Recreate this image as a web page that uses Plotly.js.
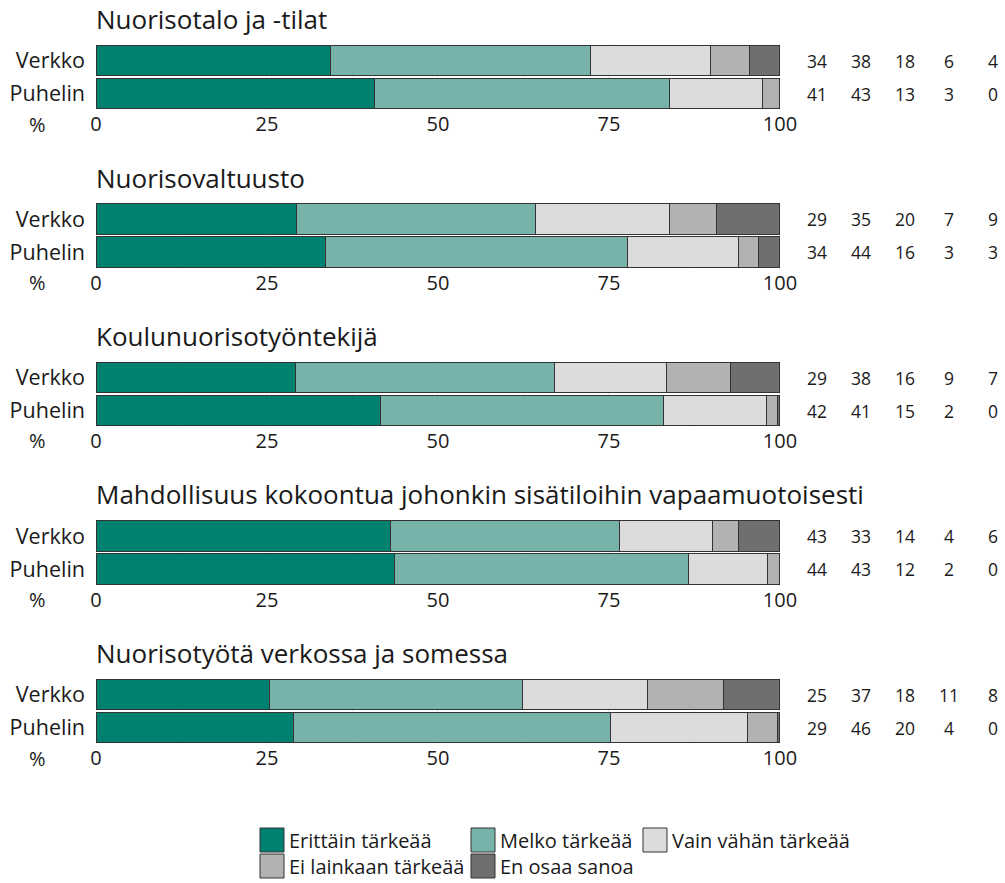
<!DOCTYPE html>
<html>
<head>
<meta charset="utf-8">
<script src="https://cdn.plot.ly/plotly-3.0.1.min.js"></script>
<style>html,body{margin:0;padding:0;background:#fff;}#chart{width:1005px;height:883px;}</style>
</head>
<body>
<div id="chart"></div>
<script>
// ---- data ----
const panels = ['Nuorisotalo ja -tilat', 'Nuorisovaltuusto', 'Koulunuorisotyöntekijä',
  'Mahdollisuus kokoontua johonkin sisätiloihin vapaamuotoisesti', 'Nuorisotyötä verkossa ja somessa'];
const groups = ['Verkko', 'Puhelin'];
const responses = ['Erittäin tärkeää', 'Melko tärkeää', 'Vain vähän tärkeää', 'Ei lainkaan tärkeää', 'En osaa sanoa'];
const colors = ['#008170', '#78b3ab', '#dcdcdc', '#b3b2b3', '#706f6f'];

// values per panel: [Verkko, Puhelin]
const erittain   = [[34.3, 40.7], [29.3, 33.6], [29.1, 41.6], [43.1, 43.6], [25.4, 28.9]];
const melko      = [[38.0, 43.2], [34.9, 44.1], [37.9, 41.3], [33.4, 43.0], [36.9, 46.3]];
const vainVahan  = [[17.6, 13.5], [19.6, 16.2], [16.4, 15.1], [13.6, 11.6], [18.4, 20.0]];
const eiLainkaan = [[5.7, 2.6], [6.9, 2.9], [9.3, 1.7], [3.9, 1.8], [11.1, 4.4]];
const enOsaa     = [[4.4, 0.0], [9.3, 3.2], [7.3, 0.3], [6.0, 0.0], [8.2, 0.4]];

// printed labels per panel: [Verkko row, Puhelin row]
const labelsP1 = [[34, 38, 18, 6, 4], [41, 43, 13, 3, 0]];
const labelsP2 = [[29, 35, 20, 7, 9], [34, 44, 16, 3, 3]];
const labelsP3 = [[29, 38, 16, 9, 7], [42, 41, 15, 2, 0]];
const labelsP4 = [[43, 33, 14, 4, 6], [44, 43, 12, 2, 0]];
const labelsP5 = [[25, 37, 18, 11, 8], [29, 46, 20, 4, 0]];

const xTicks = [0, 25, 50, 75, 100];

// ---- build ----
const series = [erittain, melko, vainVahan, eiLainkaan, enOsaa];
const labels = [labelsP1, labelsP2, labelsP3, labelsP4, labelsP5];
const W = 1005, H = 883;
const fx = p => p / W;
const fy = p => 1 - p / H;
const FONT = 'Open Sans, Noto Sans, sans-serif';
const TXT = '#1a1a1a';

const data = [];
const layout = {
  width: W, height: H,
  margin: {l: 0, r: 0, t: 0, b: 0},
  paper_bgcolor: '#fff', plot_bgcolor: '#fff',
  barmode: 'stack', bargap: 0.07,
  showlegend: false,
  font: {family: FONT, color: TXT, size: 18},
  annotations: [], shapes: []
};

const colX = [817, 861, 905, 949, 993];

panels.forEach((title, k) => {
  const top = 44 + 158.5 * k, bottom = top + 66;
  const xa = k === 0 ? 'x' : 'x' + (k + 1);
  const ya = k === 0 ? 'y' : 'y' + (k + 1);
  const xk = k === 0 ? 'xaxis' : 'xaxis' + (k + 1);
  const yk = k === 0 ? 'yaxis' : 'yaxis' + (k + 1);
  series.forEach((s, j) => {
    data.push({
      type: 'bar', orientation: 'h',
      x: s[k], y: groups, xaxis: xa, yaxis: ya,
      name: responses[j],
      marker: {color: colors[j], line: {color: '#333', width: 1}},
      hoverinfo: 'x+y+name'
    });
  });
  layout[xk] = {
    domain: [fx(96), fx(781)], anchor: ya, range: [0, 100.15],
    tickvals: xTicks, ticktext: xTicks.map(String), ticks: '',
    showgrid: true, gridcolor: '#e6e6e6', gridwidth: 1, zeroline: false,
    minor: {dtick: 12.5, tick0: 0, showgrid: true, gridcolor: '#eeeeee', gridwidth: 1},
    tickfont: {size: 20, color: TXT, family: FONT}, showline: false, fixedrange: true
  };
  layout[yk] = {
    domain: [fy(bottom), fy(top)], anchor: xa, type: 'category',
    categoryorder: 'array', categoryarray: groups, autorange: 'reversed',
    ticks: '', showgrid: false, zeroline: false, showline: false,
    ticklabelstandoff: 10,
    tickfont: {size: 21.5, color: TXT, family: FONT}, fixedrange: true
  };
  layout.annotations.push({
    text: title, xref: 'paper', yref: 'paper', x: fx(94), y: fy(top - 25),
    xanchor: 'left', yanchor: 'middle', showarrow: false,
    font: {size: 26, color: TXT, family: FONT}
  });
  layout.annotations.push({
    text: '%', xref: 'paper', yref: 'paper', x: fx(37), y: fy(bottom + 14),
    xanchor: 'center', yanchor: 'middle', showarrow: false,
    font: {size: 20, color: TXT, family: FONT}
  });
  labels[k].forEach((row, g) => {
    row.forEach((v, j) => {
      layout.annotations.push({
        text: String(v), xref: 'paper', yref: ya, x: fx(colX[j]), y: g,
        xanchor: 'center', yanchor: 'middle', showarrow: false,
        font: {size: 17.5, color: TXT, family: FONT}
      });
    });
  });
});

// legend drawn as boxes + text, in 3 columns / 2 rows
const legendCols = [260, 471, 643];
const legendRows = [840, 866];
const legendPos = [[0, 0], [1, 0], [2, 0], [0, 1], [1, 1]];
responses.forEach((r, j) => {
  const cx = legendCols[legendPos[j][0]], cy = legendRows[legendPos[j][1]];
  layout.shapes.push({
    type: 'rect', xref: 'paper', yref: 'paper',
    x0: fx(cx), x1: fx(cx + 24), y0: fy(cy - 12), y1: fy(cy + 12),
    fillcolor: colors[j], line: {color: '#333', width: 1}
  });
  layout.annotations.push({
    text: r, xref: 'paper', yref: 'paper', x: fx(cx + 27), y: fy(cy),
    xanchor: 'left', yanchor: 'middle', showarrow: false,
    font: {size: 20, color: TXT, family: FONT}
  });
});

Plotly.newPlot('chart', data, layout, {displayModeBar: false, staticPlot: true});
</script>
</body>
</html>
